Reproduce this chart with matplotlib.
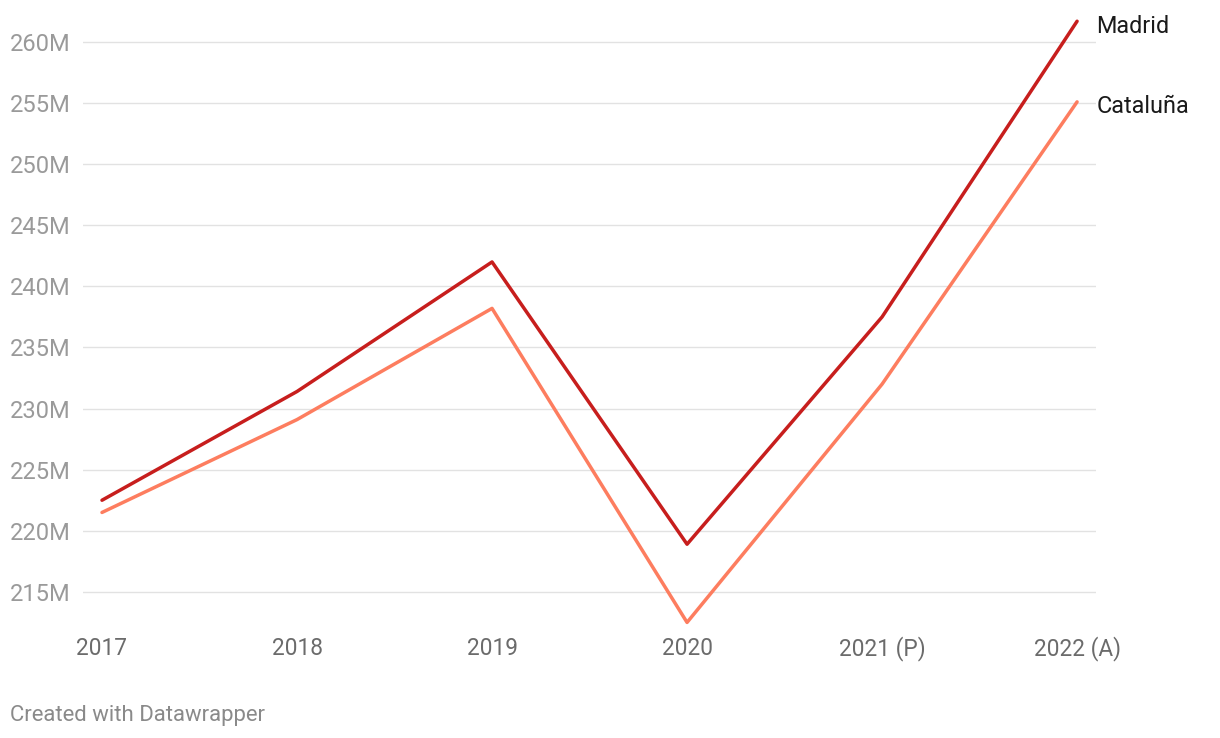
import matplotlib.pyplot as plt

# datos (millones)
years = ['2017', '2018', '2019', '2020', '2021 (P)', '2022 (A)']
madrid = [222.5, 231.4, 242.0, 218.9, 237.5, 261.7]
cataluna = [221.5, 229.1, 238.2, 212.5, 232.0, 255.1]
yticks = [215, 220, 225, 230, 235, 240, 245, 250, 255, 260]

plt.rcParams['font.family'] = ['Roboto', 'DejaVu Sans']

fig = plt.figure(figsize=(12.2, 7.38), dpi=100)
ax = fig.add_axes([83 / 1220, 1 - 625 / 738, 1013 / 1220, 610 / 738])

x = list(range(len(years)))
ax.plot(x, cataluna, color='#fd7d5f', lw=2.5, solid_capstyle='round', zorder=3)
ax.plot(x, madrid, color='#c71e1d', lw=2.5, solid_capstyle='round', zorder=4)

ax.set_xlim(-0.0974, 5.097)
ax.set_ylim(212.29, 262.21)

for v in yticks:
    ax.axhline(v, color='#e2e2e2', lw=1, zorder=1)

ax.set_yticks(yticks)
ax.set_yticklabels([f'{v}M' for v in yticks])
ax.tick_params(axis='y', length=0, pad=52.5, labelsize=17, labelcolor='#9a9a9a')
for t in ax.get_yticklabels():
    t.set_horizontalalignment('left')

ax.set_xticks(x)
ax.set_xticklabels(years)
ax.tick_params(axis='x', length=0, pad=16.6, labelsize=16.3, labelcolor='#6b6b6b')
for t in ax.get_xticklabels():
    t.set_verticalalignment('center')

for s in ax.spines.values():
    s.set_visible(False)

ax.annotate('Madrid', xy=(x[-1], madrid[-1]), xytext=(14, -4), textcoords='offset points',
            va='center', ha='left', fontsize=16.8, color='#1a1a1a', annotation_clip=False)
ax.annotate('Cataluña', xy=(x[-1], cataluna[-1]), xytext=(14, -3), textcoords='offset points',
            va='center', ha='left', fontsize=16.8, color='#1a1a1a', annotation_clip=False)

fig.text(10 / 1220, 1 - 715 / 738, 'Created with Datawrapper', fontsize=15.9,
         color='#8a8a8a', va='center', ha='left')

fig.savefig('out.png', dpi=100)
